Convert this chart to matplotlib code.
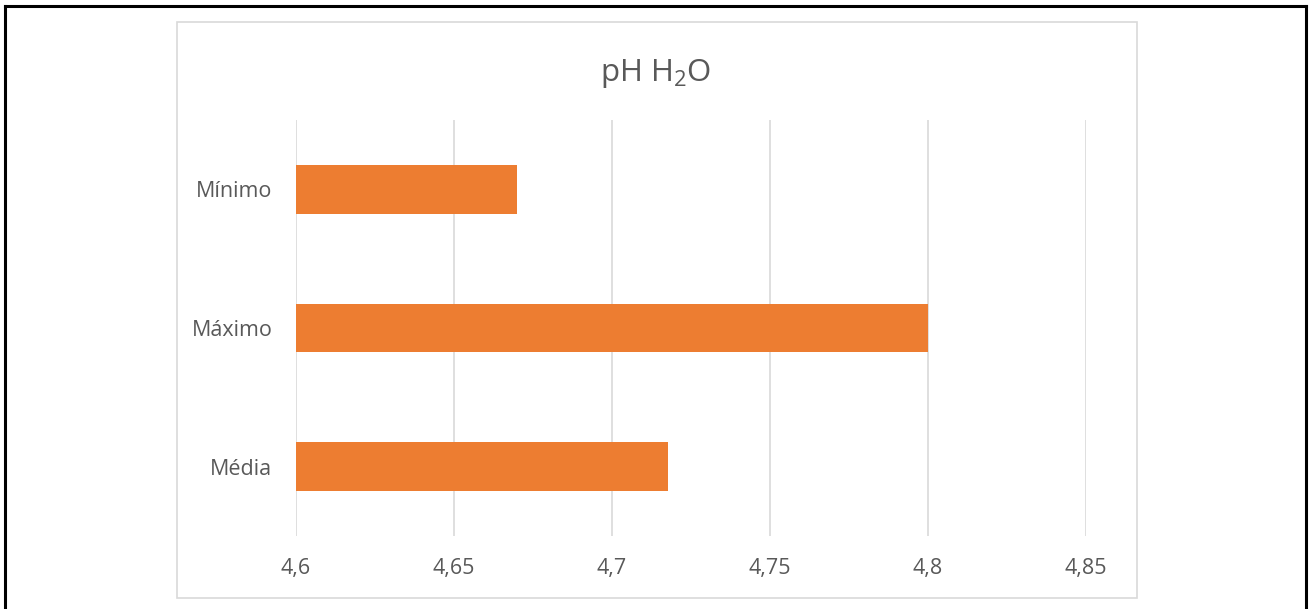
import matplotlib
matplotlib.use("Agg")
import matplotlib.pyplot as plt
from matplotlib.patches import Rectangle
from matplotlib.lines import Line2D

categories = ["Mínimo", "Máximo", "Média"]
values = [4.67, 4.80, 4.7176]
x_ticks = [4.6, 4.65, 4.7, 4.75, 4.8, 4.85]
x_tick_labels = ["4,6", "4,65", "4,7", "4,75", "4,8", "4,85"]

plt.rcParams["font.family"] = ["Open Sans", "DejaVu Sans"]
plt.rcParams["mathtext.fontset"] = "custom"
plt.rcParams["mathtext.rm"] = "Open Sans"

W, H = 1311, 609
fig = plt.figure(figsize=(W / 100, H / 100), dpi=100)
fig.patch.set_facecolor("white")

def fx(px):
    return px / W

def fy(py):
    return 1 - py / H

# outer frame lines
for (x0, y0, x1, y1) in [(5, 5.5, 1306, 5.5), (5, 5.5, 5, 609), (1306, 5.5, 1306, 609)]:
    fig.add_artist(Line2D([fx(x0), fx(x1)], [fy(y0), fy(y1)], color="black", lw=2.2,
                          transform=fig.transFigure))

# chart area border
fig.add_artist(Rectangle((fx(177), fy(598)), fx(1137) - fx(177), fy(22) - fy(598),
                         transform=fig.transFigure, fill=False, ec="#d9d9d9", lw=1.2))

ax = fig.add_axes([fx(296), fy(536), fx(1086) - fx(296), fy(120) - fy(536)])
ypos = list(range(len(categories)))
ax.barh(ypos, [v - x_ticks[0] for v in values], left=x_ticks[0], height=0.35,
        color="#ed7d31", zorder=3)
ax.set_xlim(x_ticks[0], x_ticks[-1])
ax.set_ylim(len(categories) - 0.5, -0.5)
ax.set_xticks(x_ticks)
ax.set_xticklabels(x_tick_labels)
ax.set_yticks(ypos)
ax.set_yticklabels(categories)
ax.grid(axis="x", color="#d9d9d9", lw=1.2, zorder=0)
for s in ax.spines.values():
    s.set_visible(False)
ax.tick_params(axis="both", length=0, colors="#595959", labelsize=15.5)
ax.tick_params(axis="x", pad=16)
ax.tick_params(axis="y", pad=17)

fig.text(fx(656), fy(73), r"pH H$_\mathregular{2}$O", ha="center", va="center",
         fontsize=22.5, color="#595959")

fig.savefig("out.png", dpi=100, facecolor="white")
